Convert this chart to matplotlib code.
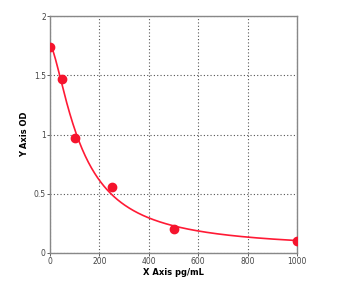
import numpy as np
from matplotlib import pyplot as plt
from matplotlib.ticker import FuncFormatter

conc = np.array([0, 50, 100, 250, 500, 1000])
od = np.array([1.74, 1.47, 0.97, 0.56, 0.20, 0.10])
x_ticks = [0, 200, 400, 600, 800, 1000]
y_ticks = [0, 0.5, 1, 1.5, 2]


def four_pl(x, a, b, c, d):
    return d + (a - d) / (1 + (x / c) ** b)


# crude 4PL fit: grid over b, c, linear least squares for a, d
best = None
for b in np.linspace(0.5, 3, 60):
    for c in np.linspace(20, 600, 120):
        g = 1 / (1 + (conc / c) ** b)
        A = np.column_stack([g, 1 - g])
        coef, *_ = np.linalg.lstsq(A, od, rcond=None)
        err = np.sum((A @ coef - od) ** 2)
        if best is None or err < best[0]:
            best = (err, coef[0], b, c, coef[1])
_, a, b, c, d = best

xs = np.linspace(0, 1000, 400)
ys = four_pl(xs, a, b, c, d)

fig = plt.figure(figsize=(3.52, 2.82), dpi=100)
ax = fig.add_axes([0.142, 0.103, 0.702, 0.840])

ax.plot(xs, ys, color='#ff1a35', lw=1.2, zorder=3)
ax.plot(conc, od, 'o', color='#f5142d', ms=6, mec='#f5142d', zorder=4)

ax.set_xlim(0, 1000)
ax.set_ylim(0, 2)
ax.set_xticks(x_ticks)
ax.set_yticks(y_ticks)
ax.yaxis.set_major_formatter(FuncFormatter(lambda v, p: '%g' % v))
ax.grid(True, color='#555555', ls=(0, (1, 2)), lw=0.8)
for s in ax.spines.values():
    s.set_color('#888888')
    s.set_linewidth(1.0)
ax.tick_params(labelsize=5.5, length=2, width=0.6, colors='#444444', pad=1)
ax.set_xlabel('X Axis pg/mL', fontsize=6, fontweight='bold', labelpad=1)
ax.set_ylabel('Y Axis OD', fontsize=6, fontweight='bold', labelpad=3)

plt.savefig('out.png', dpi=100)
